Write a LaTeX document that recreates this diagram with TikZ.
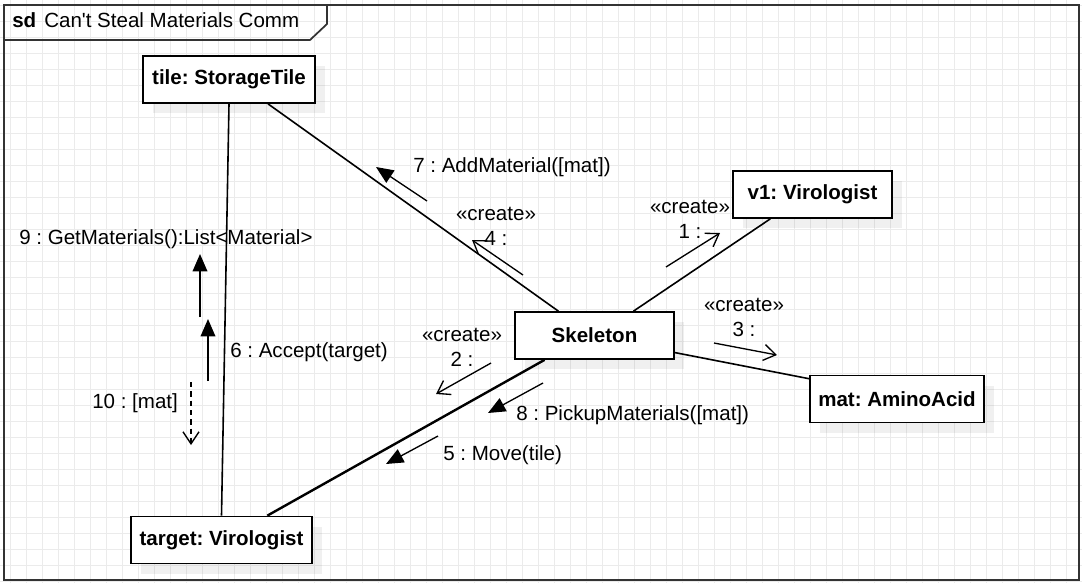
\documentclass[tikz,border=0pt]{standalone}
\usepackage{fontspec}
\setmainfont{Liberation Sans}
\frenchspacing
\usetikzlibrary{arrows.meta,shadows}
\definecolor{sdGrid}{HTML}{EBEBEB}
\definecolor{sdFrame}{HTML}{333333}
\tikzset{
  gridline/.style={draw=sdGrid, line width=0.75pt},
  sdframe/.style={draw=sdFrame, line width=1.3pt},
  objnode/.style={
    draw, line width=1.3pt, fill=white, minimum height=35.25pt, inner sep=0pt,
    font=\fontsize{15.4}{18}\selectfont\bfseries,
    drop shadow={shadow xshift=7.5pt, shadow yshift=-7.5pt, fill=black, opacity=0.06}
  },
  link/.style={line width=1.2pt},
  msg/.style={-{Triangle[length=13pt,width=11pt]}, line width=1pt},
  create/.style={-{Straight Barb[length=9pt,width=12pt]}, line width=1pt},
  reply/.style={create, dash pattern=on 4pt off 3pt},
  lbl/.style={font=\fontsize{15.4}{18.4}\selectfont, inner sep=0pt},
  stereo/.style={lbl, align=center}
}

\begin{document}
\frenchspacing
\begin{tikzpicture}[x=0.75pt, y=-0.75pt]
  \useasboundingbox (0,0) rectangle (1082,583);

  % grid
  \foreach \gx in {10.7,26.7,...,1082} \draw[gridline] (\gx,0) -- (\gx,583);
  \foreach \gy in {5.3,21.3,...,583} \draw[gridline] (0,\gy) -- (1082,\gy);

  % frame
  \draw[sdframe] (4,5) rectangle (1079,580);
  \draw[sdframe] (4,40) -- (310,40) -- (327,24) -- (327,5);
  \node[lbl, anchor=base west] (sdtag) at (12,27.3) {\bfseries sd};
  \node[lbl, anchor=base west] (title) at (44,27.3) {Can\textquotesingle t Steal Materials Comm};

  % objects
  \node[objnode, minimum width=129pt] (tile) at (229,79.5) {tile: StorageTile};
  \node[objnode, minimum width=119.25pt] (skel) at (594.5,335.5) {Skeleton};
  \node[objnode, minimum width=119.25pt] (v1) at (812.5,194.5) {v1: Virologist};
  \node[objnode, minimum width=130.5pt] (mat) at (897,399) {mat: AminoAcid};
  \node[objnode, minimum width=135.75pt] (target) at (221.5,540) {target: Virologist};

  % links
  \draw[link] (tile.south) -- (target.north);
  \draw[link] (tile.-32) -- (skel.146);
  \draw[link] (skel.32) -- (v1.210);
  \draw[link] (skel.-12) -- (mat.167);
  \draw[link, line width=1.8pt] (skel.206) -- (target.28);

  % message ends
  \coordinate (m1a) at (666,267);   \coordinate (m1b) at (720,233);
  \coordinate (m2a) at (491,363);   \coordinate (m2b) at (436,394);
  \coordinate (m3a) at (714,343);   \coordinate (m3b) at (777,355);
  \coordinate (m4a) at (523,275);   \coordinate (m4b) at (472,240);
  \coordinate (m5a) at (438,436);   \coordinate (m5b) at (386,464);
  \coordinate (m6a) at (208,381);   \coordinate (m6b) at (208,319);
  \coordinate (m7a) at (427,201);   \coordinate (m7b) at (376,167);
  \coordinate (m8a) at (543,383);   \coordinate (m8b) at (488,413);
  \coordinate (m9a) at (200,317);   \coordinate (m9b) at (200,254);
  \coordinate (m10a) at (191,382);  \coordinate (m10b) at (191,445);

  % messages
  \draw[create] (m1a) -- (m1b);
  \draw[create] (m2a) -- (m2b);
  \draw[create] (m3a) -- (m3b);
  \draw[create] (m4a) -- (m4b);
  \draw[msg] (m5a) -- (m5b);
  \draw[msg] (m6a) -- (m6b);
  \draw[msg] (m7a) -- (m7b);
  \draw[msg] (m8a) -- (m8b);
  \draw[msg] (m9a) -- (m9b);
  \draw[reply] (m10a) -- (m10b);

  % message labels
  \node[stereo] (l1) at (690,219.6) {«create»\\1 :~};
  \node[stereo] (l2) at (462,347.5) {«create»\\2 :~};
  \node[stereo] (l3) at (744,317.3) {«create»\\3 :~};
  \node[stereo] (l4) at (496,226.6) {«create»\\4 :~};
  \node[lbl, anchor=base west] (l5) at (443,460.7) {5 : Move(tile)};
  \node[lbl, anchor=base west] (l6) at (230,357.3) {6 : Accept(target)};
  \node[lbl, anchor=base west] (l7) at (413,172.3) {7 : AddMaterial([mat])};
  \node[lbl, anchor=base west] (l8) at (516,420.7) {8 : PickupMaterials([mat])};
  \node[lbl, anchor=base west] (l9) at (19,244) {9 : GetMaterials():List<Material>};
  \node[lbl, anchor=base west] (l10) at (92,408.3) {10 : [mat]};
\end{tikzpicture}
\end{document}
